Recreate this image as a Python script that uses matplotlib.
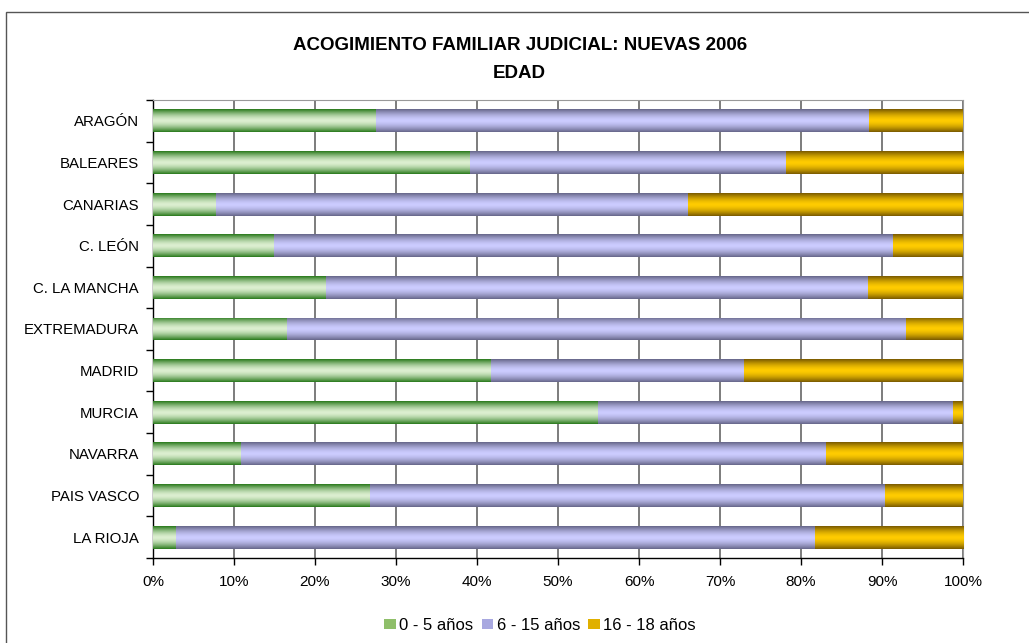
import numpy as np
import matplotlib.pyplot as plt
from matplotlib.colors import LinearSegmentedColormap
from matplotlib.patches import Rectangle

regiones = ["ARAGÓN", "BALEARES", "CANARIAS", "C. LEÓN", "C. LA MANCHA", "EXTREMADURA",
            "MADRID", "MURCIA", "NAVARRA", "PAIS VASCO", "LA RIOJA"]
edad_0_5 = [27.5, 39.1, 7.8, 14.9, 21.3, 16.5, 41.7, 54.9, 10.9, 26.8, 2.9]
edad_6_15 = [60.9, 39.0, 58.3, 76.5, 67.0, 76.5, 31.3, 43.9, 72.2, 63.6, 78.8]
edad_16_18 = [11.6, 21.9, 33.9, 8.6, 11.7, 7.0, 27.0, 1.2, 16.9, 9.6, 18.3]
series = ["0 - 5 años", "6 - 15 años", "16 - 18 años"]

# edge colour, centre colour, legend colour
colores = [("#2a7a1c", "#dcefd0", "#8fbf6a"),
           ("#66668a", "#ccccff", "#a8a8e0"),
           ("#7a5a00", "#ffcc00", "#e0b000")]

plt.rcParams['font.family'] = ['Liberation Sans', 'DejaVu Sans']

fig = plt.figure(figsize=(10.29, 6.43), dpi=100)
ax = fig.add_axes([153/1029, 1-558/643, 810/1029, 458/643])

t = np.linspace(-1, 1, 64)
grad = (1 - np.abs(t) ** 1.6).reshape(-1, 1)

y = np.arange(len(regiones))
left = np.zeros(len(regiones))
for vals, name, (c_edge, c_mid, c_leg) in zip([edad_0_5, edad_6_15, edad_16_18], series, colores):
    vals = np.array(vals)
    cmap = LinearSegmentedColormap.from_list(name, [c_edge, c_mid])
    bars = ax.barh(y, vals, left=left, height=0.55, color=c_leg, label=name, zorder=2, lw=0)
    for b in bars:
        x0, y0, w, h = b.get_x(), b.get_y(), b.get_width(), b.get_height()
        im = ax.imshow(grad, cmap=cmap, extent=[x0, x0 + w, y0, y0 + h],
                       aspect='auto', zorder=3, interpolation='bilinear')
        im.set_clip_path(b)
    left += vals

ax.set_xlim(0, 100)
ax.set_ylim(len(regiones) - 0.5, -0.5)
ax.set_aspect('auto')

ax.set_xticks(np.arange(0, 101, 10))
ax.set_xticklabels(["%d%%" % v for v in range(0, 101, 10)], fontsize=11)
ax.tick_params(axis='x', length=5, width=1, direction='out', pad=7)
ax.set_yticks(y)
ax.set_yticklabels(regiones, fontsize=10.8)
ax.set_yticks(np.arange(-0.5, len(regiones)), minor=True)
ax.tick_params(axis='y', which='major', length=0, pad=10)
ax.tick_params(axis='y', which='minor', length=5, width=1, direction='out')

ax.grid(axis='x', color='#666666', lw=1.2, zorder=1)
for s in ['top', 'right']:
    ax.spines[s].set_color('#999999')
for s in ['left', 'bottom']:
    ax.spines[s].set_color('black')
    ax.spines[s].set_linewidth(1)

fig.text(0.505, 1 - 45/643, "ACOGIMIENTO FAMILIAR JUDICIAL: NUEVAS 2006",
         ha='center', va='center', fontsize=13.5, fontweight='bold')
fig.text(0.505, 1 - 73/643, "EDAD", ha='center', va='center', fontsize=13.5, fontweight='bold')

leg = fig.legend(loc='center', bbox_to_anchor=(540/1029, 1 - 625/643), ncol=3, frameon=False,
                 fontsize=12, handlelength=0.7, handleheight=0.55, handletextpad=0.2,
                 columnspacing=0.5)

fig.add_artist(Rectangle((6/1029, -0.1), 1.2, 1 - 12/643 + 0.1, transform=fig.transFigure,
                         fill=False, edgecolor='#555555', lw=1))

fig.savefig("out.png", dpi=100)
